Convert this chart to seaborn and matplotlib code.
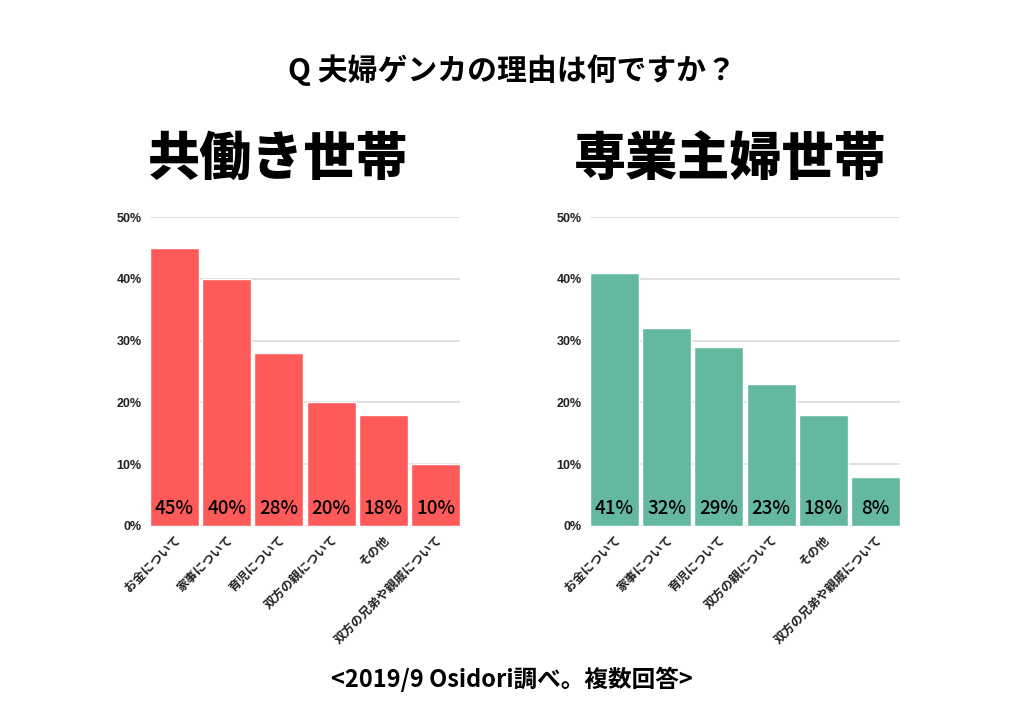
import matplotlib
matplotlib.use("Agg")
import matplotlib.pyplot as plt
import seaborn as sns
import pandas as pd

categories = ["お金について", "家事について", "育児について", "双方の親について", "その他", "双方の兄弟や親戚について"]
dual_income = [45, 40, 28, 20, 18, 10]
housewife = [41, 32, 29, 23, 18, 8]
yticks = [0, 10, 20, 30, 40, 50]
ytick_labels = ["0%", "10%", "20%", "30%", "40%", "50%"]

main_title = "Q 夫婦ゲンカの理由は何ですか？"
left_title = "共働き世帯"
right_title = "専業主婦世帯"
footer = "<2019/9 Osidori調べ。複数回答>"

sns.set_theme(style="white")
plt.rcParams['font.family'] = ['Noto Sans CJK JP', 'DejaVu Sans']

fig = plt.figure(figsize=(10.24, 7.27), dpi=100)
fig.patch.set_facecolor("white")

def draw(ax, vals, color):
    df = pd.DataFrame({"cat": categories, "val": vals})
    sns.barplot(data=df, x="cat", y="val", color=color, width=0.94, ax=ax,
                saturation=1, zorder=3)
    ax.set_xlim(-0.47, 5.47)
    ax.set_ylim(0, 50)
    ax.set_yticks(yticks)
    ax.set_yticklabels(ytick_labels, fontsize=9, fontweight="bold",
                       family=["Liberation Sans", "DejaVu Sans"], color="#222222")
    ax.yaxis.grid(True, color="#d9d9d9", lw=1.2, zorder=0)
    ax.set_axisbelow(True)
    for s in ax.spines.values():
        s.set_visible(False)
    ax.tick_params(axis="y", length=0, pad=6)
    ax.tick_params(axis="x", length=0, pad=5)
    ax.set_xticks(range(len(categories)))
    ax.set_xticklabels(categories, rotation=45, ha="right", rotation_mode="anchor",
                       fontsize=8.8, fontweight="bold", color="#222222")
    ax.set_xlabel("")
    ax.set_ylabel("")
    for i, v in enumerate(vals):
        ax.text(i, 1.3, f"{v}%", ha="center", va="bottom", fontsize=13.5,
                fontweight="medium", color="black", zorder=5)

ax1 = fig.add_axes([0.1465, 0.2765, 0.3027, 0.425])
draw(ax1, dual_income, "#FF5A5A")
ax2 = fig.add_axes([0.5762, 0.2765, 0.3027, 0.425])
draw(ax2, housewife, "#64B8A0")

fig.text(0.5, 1 - 70/727, main_title, ha="center", va="center", fontsize=21.5,
         fontweight="bold", color="black")
fig.text(278/1024, 1 - 160/727, left_title, ha="center", va="center", fontsize=37.5,
         fontweight="heavy", color="black")
fig.text(730/1024, 1 - 160/727, right_title, ha="center", va="center", fontsize=37.5,
         fontweight="heavy", color="black")
fig.text(0.5, 1 - 679/727, footer, ha="center", va="center", fontsize=17,
         fontweight="bold", color="black")

fig.savefig("out.png", dpi=100, facecolor="white")
